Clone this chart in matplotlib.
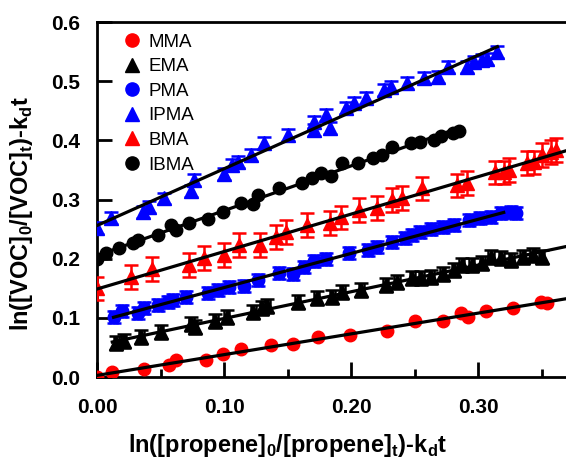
import numpy as np
import matplotlib
matplotlib.use("Agg")
import matplotlib.pyplot as plt
from matplotlib.ticker import MultipleLocator, FormatStrFormatter

plt.rcParams['font.family'] = ['Liberation Sans', 'DejaVu Sans']
plt.rcParams['font.weight'] = 'bold'
plt.rcParams['mathtext.fontset'] = 'custom'
plt.rcParams['mathtext.rm'] = 'Liberation Sans:bold'

# ---- data ----
mma_x = [0.0, 0.012, 0.037, 0.057, 0.062, 0.086, 0.099, 0.113, 0.137, 0.154, 0.174, 0.199,
         0.228, 0.250, 0.272, 0.286, 0.292, 0.306, 0.327, 0.349, 0.354]
mma_y = [0.0, 0.008, 0.014, 0.020, 0.029, 0.029, 0.039, 0.047, 0.054, 0.056, 0.068, 0.071,
         0.078, 0.094, 0.095, 0.108, 0.101, 0.112, 0.117, 0.127, 0.125]

ema_x = [0.015, 0.021, 0.035, 0.050, 0.074, 0.077, 0.093, 0.102, 0.123, 0.130, 0.134, 0.158,
         0.173, 0.185, 0.193, 0.208, 0.227, 0.236, 0.248, 0.255, 0.263, 0.272, 0.281, 0.287,
         0.295, 0.303, 0.310, 0.318, 0.326, 0.335, 0.343, 0.350]
ema_y = [0.057, 0.061, 0.068, 0.076, 0.090, 0.085, 0.095, 0.101, 0.110, 0.117, 0.120, 0.127,
         0.134, 0.135, 0.144, 0.147, 0.155, 0.161, 0.167, 0.167, 0.169, 0.174, 0.181, 0.189,
         0.189, 0.193, 0.203, 0.201, 0.198, 0.203, 0.206, 0.203]

pma_x = [0.013, 0.020, 0.032, 0.037, 0.048, 0.056, 0.060, 0.070, 0.087, 0.095, 0.104, 0.116,
         0.127, 0.143, 0.154, 0.163, 0.171, 0.180, 0.198, 0.213, 0.220, 0.232, 0.242, 0.248,
         0.254, 0.263, 0.272, 0.281, 0.293, 0.301, 0.310, 0.318, 0.326, 0.330]
pma_y = [0.101, 0.112, 0.108, 0.117, 0.122, 0.127, 0.130, 0.135, 0.142, 0.147, 0.152, 0.154,
         0.164, 0.176, 0.174, 0.186, 0.196, 0.199, 0.210, 0.215, 0.220, 0.228, 0.235, 0.240,
         0.245, 0.250, 0.254, 0.257, 0.265, 0.269, 0.270, 0.277, 0.279, 0.277]

ipma_x = [0.0, 0.011, 0.036, 0.041, 0.053, 0.074, 0.076, 0.100, 0.106, 0.111, 0.121, 0.131,
          0.150, 0.171, 0.171, 0.180, 0.183, 0.196, 0.202, 0.212, 0.226, 0.231, 0.244, 0.257,
          0.268, 0.276, 0.291, 0.297, 0.303, 0.307, 0.315]
ipma_y = [0.252, 0.269, 0.279, 0.287, 0.302, 0.314, 0.333, 0.343, 0.358, 0.363, 0.375, 0.395,
          0.409, 0.431, 0.417, 0.443, 0.421, 0.455, 0.463, 0.472, 0.485, 0.490, 0.497, 0.505,
          0.507, 0.524, 0.524, 0.532, 0.536, 0.537, 0.549]

bma_x = [0.0, 0.027, 0.043, 0.072, 0.084, 0.100, 0.112, 0.128, 0.141, 0.149, 0.165, 0.183,
         0.192, 0.206, 0.220, 0.232, 0.240, 0.256, 0.283, 0.291, 0.313, 0.320, 0.324, 0.338,
         0.344, 0.350, 0.357, 0.361]
bma_y = [0.150, 0.169, 0.183, 0.190, 0.201, 0.206, 0.223, 0.223, 0.237, 0.245, 0.257, 0.260,
         0.270, 0.282, 0.286, 0.299, 0.303, 0.319, 0.324, 0.328, 0.346, 0.346, 0.350, 0.362,
         0.363, 0.375, 0.380, 0.384]

ibma_x = [0.0, 0.007, 0.017, 0.028, 0.032, 0.048, 0.058, 0.062, 0.072, 0.087, 0.099, 0.113,
          0.123, 0.127, 0.143, 0.161, 0.169, 0.176, 0.184, 0.193, 0.205, 0.217, 0.224, 0.232,
          0.247, 0.254, 0.265, 0.271, 0.280, 0.285]
ibma_y = [0.200, 0.210, 0.218, 0.226, 0.232, 0.240, 0.257, 0.248, 0.260, 0.267, 0.279, 0.294,
          0.292, 0.308, 0.319, 0.328, 0.336, 0.345, 0.340, 0.362, 0.362, 0.370, 0.375, 0.389,
          0.395, 0.397, 0.401, 0.407, 0.412, 0.416]

labels = ['MMA', 'EMA', 'PMA', 'IPMA', 'BMA', 'IBMA']
colors = ['red', 'black', 'blue', 'blue', 'red', 'black']
markers = ['o', '^', 'o', '^', '^', 'o']
yerrs = [0.0, 0.012, 0.010, 0.010, 0.020, 0.0]
xerrs = [0.0, 0.002, 0.003, 0.0, 0.0, 0.0]
fit_ranges = [(0.0, 0.37), (0.012, 0.37), (0.013, 0.32), (0.0, 0.315), (0.0, 0.37), (0.0, 0.285)]

xs = [mma_x, ema_x, pma_x, ipma_x, bma_x, ibma_x]
ys = [mma_y, ema_y, pma_y, ipma_y, bma_y, ibma_y]

fig, ax = plt.subplots(figsize=(5.66, 4.61), dpi=100)
fig.subplots_adjust(left=0.1714, right=1.0, bottom=0.182, top=0.952)

for x, y, lab, c, m, ye, xe, rng in zip(xs, ys, labels, colors, markers, yerrs, xerrs, fit_ranges):
    x = np.array(x)
    y = np.array(y)
    ms = 9 if m == 'o' else 10
    ax.errorbar(x, y, yerr=ye if ye else None, xerr=xe if xe else None, fmt=m, color=c,
                ms=ms, mec=c, capsize=5, elinewidth=1.8, capthick=1.8, label=lab, zorder=3)
    # linear fit line
    k, b = np.polyfit(x, y, 1)
    xx = np.array(rng)
    ax.plot(xx, k * xx + b, color='black', lw=2.3, zorder=4)

ax.set_xlim(0.0, 0.369)
ax.set_ylim(0.0, 0.6)
ax.xaxis.set_major_locator(MultipleLocator(0.1))
ax.xaxis.set_minor_locator(MultipleLocator(0.05))
ax.yaxis.set_major_locator(MultipleLocator(0.1))
ax.xaxis.set_major_formatter(FormatStrFormatter('%.2f'))
ax.yaxis.set_major_formatter(FormatStrFormatter('%.1f'))
ax.tick_params(which='major', direction='in', length=11, width=2, labelsize=15)
ax.tick_params(which='minor', direction='in', length=6, width=2)
ax.tick_params(axis='x', pad=15)
ax.tick_params(axis='y', pad=12)
for s in ['left', 'bottom', 'top']:
    ax.spines[s].set_linewidth(2)
ax.spines['right'].set_visible(False)

ax.set_xlabel(r'ln([propene]$_\mathrm{0}$/[propene]$_\mathrm{t}$)-k$_\mathrm{d}$t',
              fontsize=17, fontweight='bold')
ax.set_ylabel(r'ln([VOC]$_\mathrm{0}$/[VOC]$_\mathrm{t}$)-k$_\mathrm{d}$t',
              fontsize=17, fontweight='bold')
ax.xaxis.set_label_coords(0.407, -0.155)
ax.yaxis.set_label_coords(-0.132, 0.46)

handles = [plt.Line2D([], [], ls='none', marker=m, color=c, ms=9.5) for m, c in zip(markers, colors)]
ax.legend(handles, labels, loc='upper left', frameon=False,
          prop={'weight': 'normal', 'size': 13.5}, handlelength=0.8, handletextpad=0.45,
          labelspacing=0.4, borderaxespad=0.2, bbox_to_anchor=(0.035, 1.0))

for lab in ax.get_xticklabels() + ax.get_yticklabels():
    lab.set_fontweight('bold')

fig.savefig('out.png', dpi=100)
